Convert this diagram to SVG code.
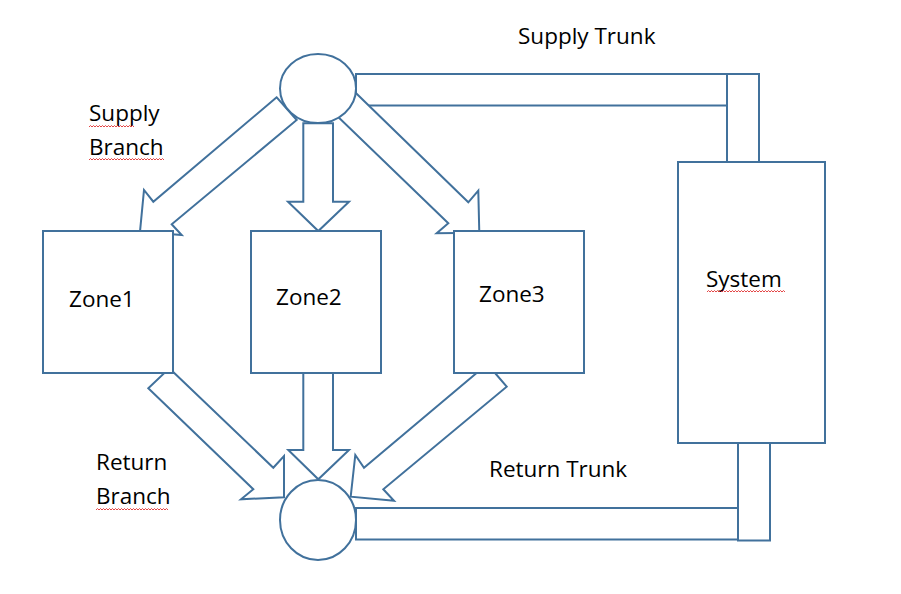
<svg xmlns="http://www.w3.org/2000/svg" width="901" height="594" viewBox="0 0 901 594">
<style>
.s{fill:#fff;stroke:#41719C;stroke-width:2}
.t{font-family:"Open Sans","Liberation Sans",sans-serif;font-size:22.5px;fill:#000}
.sq{fill:none;stroke:#e03030;stroke-width:0.9}
</style>
<rect width="901" height="594" fill="#fff"/>
<g id="connectors">
<rect class="s" x="356" y="74" width="403" height="31.5"/>
<rect class="s" x="727" y="74" width="32" height="88"/>
<rect class="s" x="356" y="508" width="382" height="31.5"/>
<rect class="s" x="738" y="443" width="32" height="97.5"/>
<polygon class="s" points="276.7,97.3 153.3,201.7 144,190 140,231.7 181.7,235 171.7,224.3 296.7,120"/>
<polygon class="s" points="303.3,123.3 333,123.3 333,201.7 349,201.7 318.3,231 288,201.7 303.3,201.7"/>
<polygon class="s" points="352,89.3 468.3,202.3 478.3,190.7 479.3,232.7 436.7,233.3 448.3,223.3 331.7,110.7"/>
<polygon class="s" points="169.3,368.3 273.3,467.7 284,456 284,497.3 241,499.3 253.3,489.3 148.3,388.3"/>
<polygon class="s" points="303.3,373 333,373 333,450 349,450 318.3,479.3 288.3,450 303.3,450"/>
<polygon class="s" points="487.3,364 364,467.7 355.3,455 350.7,496.7 394,500.7 383.3,489.3 506.7,386.7"/>
</g>
<g id="supply-header"><ellipse class="s" cx="318" cy="88.5" rx="38" ry="34.5"/></g>
<g id="return-header"><ellipse class="s" cx="318" cy="520" rx="38" ry="40"/></g>
<g id="zone1"><rect class="s" x="43" y="231" width="130" height="142"/><text class="t" x="69" y="307">Zone1</text></g>
<g id="zone2"><rect class="s" x="251" y="231" width="130" height="142"/><text class="t" x="276" y="305">Zone2</text></g>
<g id="zone3"><rect class="s" x="454" y="231" width="130" height="142"/><text class="t" x="479" y="302">Zone3</text></g>
<g id="system"><rect class="s" x="678" y="162" width="147" height="281"/><text class="t" x="706" y="287">System</text>
<path class="sq" d="M707,292 l1.5,-1.5 l1.5,1.5 l1.5,-1.5 l1.5,1.5 l1.5,-1.5 l1.5,1.5 l1.5,-1.5 l1.5,1.5 l1.5,-1.5 l1.5,1.5 l1.5,-1.5 l1.5,1.5 l1.5,-1.5 l1.5,1.5 l1.5,-1.5 l1.5,1.5 l1.5,-1.5 l1.5,1.5 l1.5,-1.5 l1.5,1.5 l1.5,-1.5 l1.5,1.5 l1.5,-1.5 l1.5,1.5 l1.5,-1.5 l1.5,1.5 l1.5,-1.5 l1.5,1.5 l1.5,-1.5 l1.5,1.5 l1.5,-1.5 l1.5,1.5 l1.5,-1.5 l1.5,1.5 l1.5,-1.5 l1.5,1.5 l1.5,-1.5 l1.5,1.5 l1.5,-1.5 l1.5,1.5 l1.5,-1.5 l1.5,1.5 l1.5,-1.5 l1.5,1.5 l1.5,-1.5 l1.5,1.5 l1.5,-1.5 l1.5,1.5 l1.5,-1.5 l1.5,1.5 l1.5,-1.5 l1.5,1.5"/></g>
<g id="labels">
<text class="t" x="518" y="44">Supply Trunk</text>
<text class="t" x="89" y="121">Supply</text>
<path class="sq" d="M89,127 l1.5,-1.5 l1.5,1.5 l1.5,-1.5 l1.5,1.5 l1.5,-1.5 l1.5,1.5 l1.5,-1.5 l1.5,1.5 l1.5,-1.5 l1.5,1.5 l1.5,-1.5 l1.5,1.5 l1.5,-1.5 l1.5,1.5 l1.5,-1.5 l1.5,1.5 l1.5,-1.5 l1.5,1.5 l1.5,-1.5 l1.5,1.5 l1.5,-1.5 l1.5,1.5 l1.5,-1.5 l1.5,1.5 l1.5,-1.5 l1.5,1.5 l1.5,-1.5 l1.5,1.5 l1.5,-1.5 l1.5,1.5"/>
<text class="t" x="89" y="155">Branch</text>
<path class="sq" d="M89,160 l1.5,-1.5 l1.5,1.5 l1.5,-1.5 l1.5,1.5 l1.5,-1.5 l1.5,1.5 l1.5,-1.5 l1.5,1.5 l1.5,-1.5 l1.5,1.5 l1.5,-1.5 l1.5,1.5 l1.5,-1.5 l1.5,1.5 l1.5,-1.5 l1.5,1.5 l1.5,-1.5 l1.5,1.5 l1.5,-1.5 l1.5,1.5 l1.5,-1.5 l1.5,1.5 l1.5,-1.5 l1.5,1.5 l1.5,-1.5 l1.5,1.5 l1.5,-1.5 l1.5,1.5 l1.5,-1.5 l1.5,1.5 l1.5,-1.5 l1.5,1.5 l1.5,-1.5 l1.5,1.5 l1.5,-1.5 l1.5,1.5 l1.5,-1.5 l1.5,1.5 l1.5,-1.5 l1.5,1.5 l1.5,-1.5 l1.5,1.5 l1.5,-1.5 l1.5,1.5 l1.5,-1.5 l1.5,1.5 l1.5,-1.5 l1.5,1.5 l1.5,-1.5 l1.5,1.5"/>
<text class="t" x="96" y="470">Return</text>
<text class="t" x="96" y="504">Branch</text>
<path class="sq" d="M96,510 l1.5,-1.5 l1.5,1.5 l1.5,-1.5 l1.5,1.5 l1.5,-1.5 l1.5,1.5 l1.5,-1.5 l1.5,1.5 l1.5,-1.5 l1.5,1.5 l1.5,-1.5 l1.5,1.5 l1.5,-1.5 l1.5,1.5 l1.5,-1.5 l1.5,1.5 l1.5,-1.5 l1.5,1.5 l1.5,-1.5 l1.5,1.5 l1.5,-1.5 l1.5,1.5 l1.5,-1.5 l1.5,1.5 l1.5,-1.5 l1.5,1.5 l1.5,-1.5 l1.5,1.5 l1.5,-1.5 l1.5,1.5 l1.5,-1.5 l1.5,1.5 l1.5,-1.5 l1.5,1.5 l1.5,-1.5 l1.5,1.5 l1.5,-1.5 l1.5,1.5 l1.5,-1.5 l1.5,1.5 l1.5,-1.5 l1.5,1.5 l1.5,-1.5 l1.5,1.5 l1.5,-1.5 l1.5,1.5 l1.5,-1.5 l1.5,1.5"/>
<text class="t" x="489" y="477">Return Trunk</text>
</g>
</svg>
